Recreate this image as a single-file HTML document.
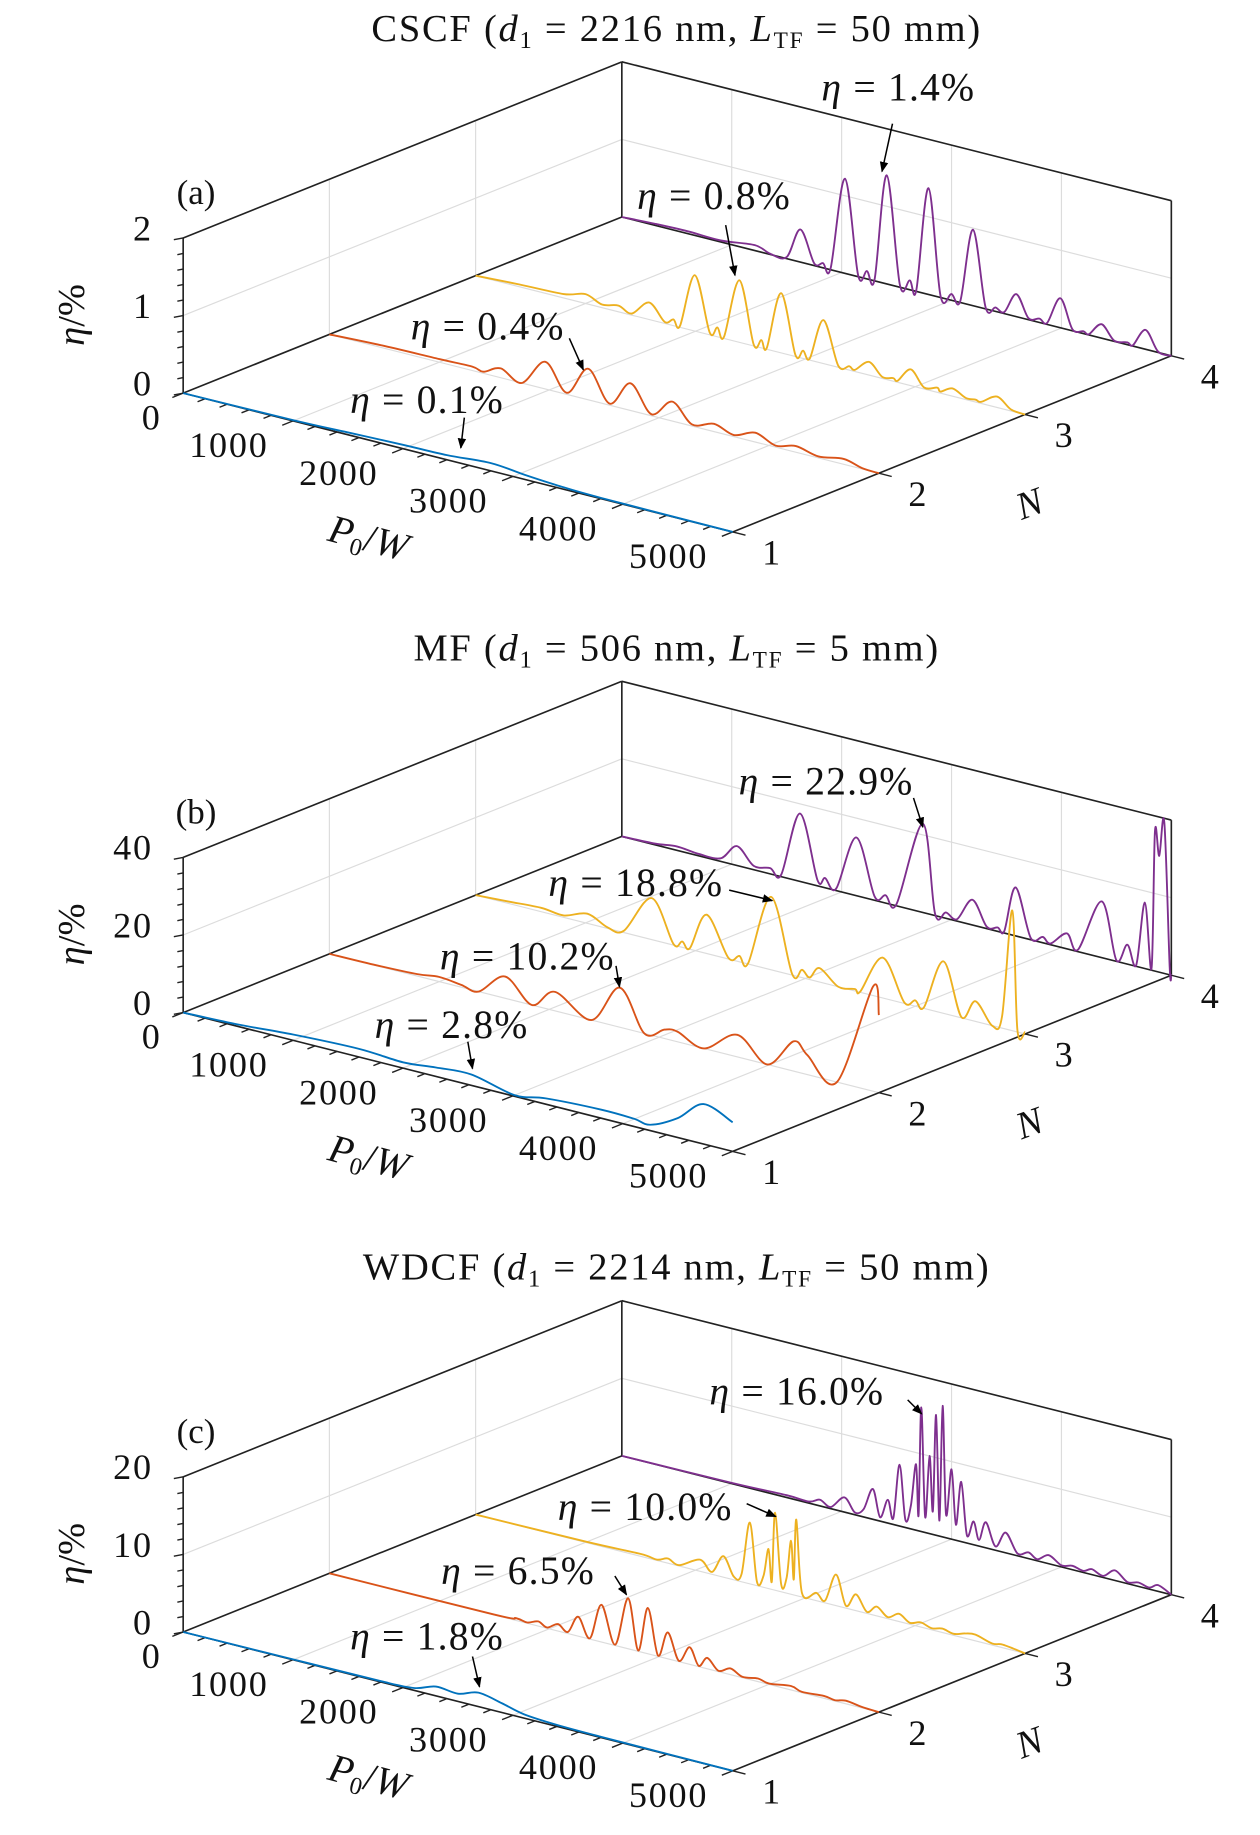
<!DOCTYPE html>
<html><head><meta charset="utf-8"><title>Efficiency vs P0 and N</title>
<style>
html,body{margin:0;padding:0;background:#fff;}
svg{display:block;}
text{font-family:"Liberation Serif",serif;fill:#111;}
</style></head>
<body>
<svg id="fig" xmlns="http://www.w3.org/2000/svg" width="1260" height="1835" viewBox="0 0 1080 1573" preserveAspectRatio="none">
<defs>
<marker id="ah" viewBox="0 0 10 10" refX="9" refY="5" markerWidth="7" markerHeight="7" orient="auto"><path d="M0,1 L10,5 L0,9 z" fill="#000"/></marker>
</defs>
</svg>
<script>
// ---- data: [P0 (W), eta (%)] per series ----
const nValues = [1, 2, 3, 4];
const pTicks = [0, 1000, 2000, 3000, 4000, 5000];
const panelTitles = ["CSCF", "MF", "WDCF"];
const zMaxA = 2, zMaxB = 40, zMaxC = 20;
const zTicksA = [0, 1, 2], zTicksB = [0, 20, 40], zTicksC = [0, 10, 20];

const pA1 = [0,1000,1500,2000,2400,2800,3100,3400,3800,5000];
const eA1 = [0,0.01,0.03,0.05,0.06,0.1,0.06,0.03,0.01,0];
const pA2 = [0,500,1000,1300,1400,1560,1750,1965,2160,2355,2550,2740,2930,3120,3300,3500,3680,3875,4060,4245,4450,4680,4850,5000];
const eA2 = [0,0.03,0.04,0.05,0.02,0.12,0.0,0.35,0.02,0.4,0.02,0.35,0.02,0.25,0.02,0.1,0.02,0.12,0.02,0.08,0.02,0.07,0.01,0];
const pA3 = [0,400,800,1000,1150,1300,1420,1580,1720,1800,1860,1995,2130,2200,2260,2400,2530,2600,2650,2780,2910,2980,3040,3165,3300,3400,3450,3580,3700,3800,3840,3960,4080,4200,4230,4340,4460,4550,4600,4745,4870,5000];
const eA3 = [0,0.03,0.05,0.12,0.04,0.08,0.02,0.22,0.02,0.08,0.02,0.72,0.03,0.12,0.02,0.8,0.02,0.1,0.02,0.77,0.02,0.1,0.02,0.56,0.02,0.05,0.02,0.17,0.02,0.04,0.02,0.21,0.02,0.06,0.02,0.1,0.02,0.03,0.02,0.14,0.02,0];
const pA4 = [0,300,600,900,1210,1350,1500,1625,1750,1830,1900,2030,2150,2230,2300,2410,2530,2620,2680,2790,2900,3000,3080,3195,3310,3400,3480,3590,3700,3800,3870,3990,4100,4200,4250,4365,4480,4600,4650,4765,4880,5000];
const eA4 = [0,0.02,0.03,0.02,0.07,0.01,0.02,0.42,0.03,0.06,0.02,1.22,0.02,0.1,0.02,1.4,0.03,0.12,0.02,1.37,0.02,0.08,0.02,0.98,0.02,0.05,0.02,0.29,0.02,0.05,0.02,0.38,0.02,0.03,0.01,0.18,0.01,0.03,0.01,0.25,0.01,0];

const pB1 = [0,500,1000,1600,2000,2300,2622,3015,3300,3800,4100,4250,4500,4735,5000];
const eB1 = [0,0.5,1.5,2.1,1.5,2.3,2.8,0.3,1.5,2.2,2.0,1.5,5,10.3,7.5];
const pB2 = [0,400,800,997,1200,1359,1600,1842,2053,2384,2643,2866,3050,3169,3408,3712,3984,4225,4350,4618,4947,5000];
const eB2 = [0,0.1,0.5,1.2,0.6,0,5.6,0,4.9,0,10.2,0,2.3,2.6,0,5.7,0,7.7,5,0,27,20];
const pB3 = [0,300,600,800,1017,1200,1350,1603,1800,1880,1950,2102,2300,2400,2480,2689,2880,2970,3040,3130,3300,3450,3500,3705,3900,4000,4080,4257,4420,4548,4700,4790,4883,4930,5000];
const eB3 = [0,0.5,1.0,0.5,2.5,0.3,0.5,10.7,0.3,1.5,0.3,10,0.3,1.5,0.2,18.8,0.3,2,0.5,3.6,0,0.5,0.2,10.4,0.3,1.5,0.3,13.4,0.2,5.2,0,3,31,0.5,0.5];
const pB4 = [0,300,500,700,900,1048,1200,1350,1450,1621,1780,1850,1950,2134,2300,2400,2500,2739,2850,2950,3050,3190,3320,3420,3480,3583,3720,3830,3900,4050,4150,4367,4500,4600,4680,4759,4820,4851,4890,4936,4985,5000];
const eB4 = [0,0.3,1.0,0.5,0.8,5,1.0,1.5,0.5,17.5,1.5,2.5,0.5,15,1,2,0.5,22.9,0.5,1.5,0.5,6.5,0.5,1,0.5,12.5,0.5,1.5,0.3,4,0.5,14.5,0.3,5,0.3,17,0.5,36,30,39,2,0];

const pC1 = [0,1000,1800,2100,2300,2500,2686,2900,3100,3400,3800,5000];
const eC1 = [0,0.05,0.1,0.3,1.2,1.0,1.8,1.2,0.5,0.2,0.1,0];
const pC2 = [0,1500,1700,1800,1900,1980,2080,2170,2264,2370,2476,2600,2718,2810,2898,2990,3079,3180,3278,3360,3439,3540,3650,3760,3900,4000,4200,4300,4500,4600,4700,4850,5000];
const eC2 = [0,0.05,0.3,0.1,0.6,0.1,0.9,0.2,2.5,0.1,4.8,0.1,6.5,0.1,5.9,0.1,3.4,0.1,2.2,0.1,1.4,0.1,0.8,0.1,0.4,0.1,0.5,0.1,0.3,0.1,0.4,0.1,0];
const pC3 = [0,1000,1500,1650,1750,1850,2042,2150,2254,2350,2420,2495,2560,2620,2665,2695,2725,2780,2830,2870,2895,2918,2970,3100,3180,3280,3370,3461,3560,3650,3750,3853,3950,4050,4150,4246,4350,4450,4548,4700,4800,5000];
const eC3 = [0,0.1,0.3,0.1,0.6,0.1,1.5,0.3,2.7,0.4,1,7.9,0.5,1.5,5.1,1,10,1,2,6.9,2,9.8,0.5,1.0,0.3,4,0.3,2.1,0.2,1.2,0.2,1,0.2,0.6,0.2,0.5,0.2,0.6,0.8,0.2,0.4,0];
const pC4 = [0,1000,1500,1700,1803,1900,2025,2120,2200,2284,2350,2420,2470,2527,2580,2630,2677,2700,2725,2760,2800,2830,2859,2890,2919,2950,3000,3040,3088,3140,3200,3250,3312,3400,3493,3600,3700,3780,3885,4000,4100,4200,4276,4380,4487,4600,4700,4800,4880,5000];
const eC4 = [0,0.1,0.3,0.2,0.8,0.2,1.9,0.3,1,3.9,0.5,3,0.8,7.9,1,3,8.5,2,16,2,10,3,15.5,2,16.9,3,9,2,7.7,1,3,0.8,3.3,0.5,2.6,0.3,0.8,0.2,1.1,0.2,0.5,0.2,0.7,0.2,1.3,0.2,0.5,0.2,0.8,0];

const colors = ["#0072BD","#D95319","#EDB120","#7E2F8E"];
const NS = "http://www.w3.org/2000/svg";
const svg = document.getElementById('fig');

const panels = [
  {key:'a', oy:337, zmax:zMaxA, zt:zTicksA, minor:0.2, title:"CSCF", d:"2216", L:"50", series:[[pA1,eA1],[pA2,eA2],[pA3,eA3],[pA4,eA4]],
   ann:[["1.4",770,75,765,106,756,147],["0.8",612,168,622,193,630,236],["0.4",418,280,488,290,500,317],["0.1",366,343,398,358,395,384]]},
  {key:'b', oy:868, zmax:zMaxB, zt:zTicksB, minor:4, title:"MF", d:"506", L:"5", series:[[pB1,eB1],[pB2,eB2],[pB3,eB3],[pB4,eB4]],
   ann:[["22.9",708,670,783,684,791,709],["18.8",545,757,625,763,662,772],["10.2",452,820,528,828,531,846],["2.8",387,879,401,893,405,916]]},
  {key:'c', oy:1399, zmax:zMaxC, zt:zTicksC, minor:2, title:"WDCF", d:"2214", L:"50", series:[[pC1,eC1],[pC2,eC2],[pC3,eC3],[pC4,eC4]],
   ann:[["16.0",683,1193,778,1200,790,1212],["10.0",553,1292,640,1289,665,1300],["6.5",444,1347,527,1351,537,1367],["1.8",366,1403,405,1420,411,1446]]}
];

function el(tag, attrs, parent){
  const e = document.createElementNS(NS, tag);
  for (const k in attrs) e.setAttribute(k, attrs[k]);
  (parent||svg).appendChild(e);
  return e;
}
function mk(p){
  return function(P, N, z){
    return [157 + P/5000*471 + (N-1)/3*376, p.oy + P/5000*119 - (N-1)/3*151 - z/p.zmax*133];
  };
}
function line(g, a, b, stroke, w, name){
  const l = el('line', {x1:a[0].toFixed(2), y1:a[1].toFixed(2), x2:b[0].toFixed(2), y2:b[1].toFixed(2), stroke:stroke, 'stroke-width':w}, g);
  
  
  return l;
}
function text(g, x, y, str, size, anchor, name, extra){
  const t = el('text', Object.assign({x:x, y:y, 'font-size':size, 'text-anchor':anchor||'middle'}, extra||{}), g);
  t.innerHTML = str;
  
  
  return t;
}
function smoothPath(pts){
  let d = 'M' + pts[0][0].toFixed(2) + ',' + pts[0][1].toFixed(2);
  for (let i = 0; i < pts.length-1; i++){
    const p0 = pts[Math.max(0,i-1)], p1 = pts[i], p2 = pts[i+1], p3 = pts[Math.min(pts.length-1,i+2)];
    const c1 = [p1[0] + (p2[0]-p0[0])/6, p1[1] + (p2[1]-p0[1])/6];
    const c2 = [p2[0] - (p3[0]-p1[0])/6, p2[1] - (p3[1]-p1[1])/6];
    d += ' C' + c1[0].toFixed(2)+','+c1[1].toFixed(2)+' '+c2[0].toFixed(2)+','+c2[1].toFixed(2)+' '+p2[0].toFixed(2)+','+p2[1].toFixed(2);
  }
  return d;
}

panels.forEach(function(p){
  const pr = mk(p);
  const g = el('g', {});
  
  
  const zm = p.zmax, grid = '#dcdcdc', k = '#222';
  [1000,2000,3000,4000].forEach(function(P){
    line(g, pr(P,1,0), pr(P,4,0), grid, 1, 'floor-grid-p');
    line(g, pr(P,4,0), pr(P,4,zm), grid, 1, 'back-wall-grid-p');
  });
  [2,3].forEach(function(N){
    line(g, pr(0,N,0), pr(5000,N,0), grid, 1, 'floor-grid-n');
    line(g, pr(0,N,0), pr(0,N,zm), grid, 1, 'side-wall-grid-n');
  });
  line(g, pr(0,1,zm/2), pr(0,4,zm/2), grid, 1, 'side-wall-grid-z');
  line(g, pr(0,4,zm/2), pr(5000,4,zm/2), grid, 1, 'back-wall-grid-z');
  line(g, pr(0,1,0), pr(0,1,zm), k, 1.4, 'z-axis');
  line(g, pr(0,1,zm), pr(0,4,zm), k, 1.4, 'box-edge');
  line(g, pr(0,4,0), pr(0,4,zm), k, 1.4, 'box-edge');
  line(g, pr(0,4,zm), pr(5000,4,zm), k, 1.4, 'box-edge');
  line(g, pr(5000,4,0), pr(5000,4,zm), k, 1.4, 'box-edge');
  line(g, pr(0,1,0), pr(0,4,0), k, 1.4, 'box-edge');
  line(g, pr(0,4,0), pr(5000,4,0), k, 1.4, 'box-edge');
  line(g, pr(0,1,0), pr(5000,1,0), k, 1.4, 'p-axis');
  line(g, pr(5000,1,0), pr(5000,4,0), k, 1.4, 'n-axis');
  for (let P = 0; P <= 5000; P += 200){
    const a = pr(P,1,0), major = (P % 1000 === 0);
    const len = major ? 10 : 7;
    line(g, a, [a[0]-0.928*len, a[1]+0.373*len], k, 1.2, 'p-tick');
  }
  pTicks.forEach(function(P){
    const a = pr(P,1,0);
    text(g, P===0 ? a[0]-27 : a[0]-55, a[1]+31, String(P), 31, 'middle', 'p-tick-label', {'letter-spacing':'1.5'});
  });
  nValues.forEach(function(N){
    const a = pr(5000,N,0);
    line(g, a, [a[0]+11, a[1]+2.8], k, 1.2, 'n-tick');
    text(g, a[0]+33, a[1]+28, String(N), 31, 'middle', 'n-tick-label');
  });
  for (let z = 0; z <= zm + 1e-9; z += p.minor){
    const a = pr(0,1,z);
    const major = p.zt.some(function(t){ return Math.abs(t-z) < 1e-6; });
    line(g, a, [a[0]-(major?8:5), a[1]+(major?1.5:1)], k, 1.2, 'z-tick');
  }
  p.zt.forEach(function(z){
    const a = pr(0,1,z);
    text(g, 131, a[1]+2, String(z), 31, 'end', 'z-tick-label', {'letter-spacing':'1.5'});
  });
  p.series.forEach(function(s, i){
    const pts = s[0].map(function(P, j){ return pr(P, nValues[i], s[1][j]); });
    const path = el('path', {d:smoothPath(pts), fill:'none', stroke:colors[i], 'stroke-width':1.6, 'stroke-linejoin':'round'}, g);
    
    
  });
  p.ann.forEach(function(a){
    text(g, a[1], a[2]+11, '<tspan font-style="italic">η</tspan> = ' + a[0] + '%', 34, 'middle', 'eta-annotation', {'letter-spacing':'1'});
    const ar = el('line', {x1:a[3], y1:a[4], x2:a[5], y2:a[6], stroke:'#000', 'stroke-width':1.3, 'marker-end':'url(#ah)'}, g);
    
    
  });
  const ty = p.oy - 302;
  text(g, 580, ty, p.title + ' (<tspan font-style="italic">d</tspan><tspan font-size="21" dy="6">1</tspan><tspan dy="-6"> = ' + p.d + ' nm, </tspan><tspan font-style="italic">L</tspan><tspan font-size="20" dy="6">TF</tspan><tspan dy="-6"> = ' + p.L + ' mm)</tspan>', 33, 'middle', 'panel-title', {'letter-spacing':'1.5'});
  text(g, 168, p.oy - 162, '(' + p.key + ')', 30, 'middle', 'panel-letter');
  text(g, 0, 0, '<tspan font-style="italic">η</tspan>/%', 33, 'middle', 'z-axis-title', {transform:'translate(72,' + (p.oy-67) + ') rotate(-90)'});
  text(g, 0, 0, '<tspan font-style="italic">P</tspan><tspan font-size="21" dy="6">0</tspan><tspan dy="-6">/</tspan><tspan font-style="italic">W</tspan>', 34, 'middle', 'p-axis-title', {transform:'translate(313,' + (p.oy+135) + ') rotate(15)'});
  text(g, 0, 0, '<tspan font-style="italic">N</tspan>', 33, 'middle', 'n-axis-title', {transform:'translate(886,' + (p.oy+105) + ') rotate(-20)'});
});
</script>
</body></html>
